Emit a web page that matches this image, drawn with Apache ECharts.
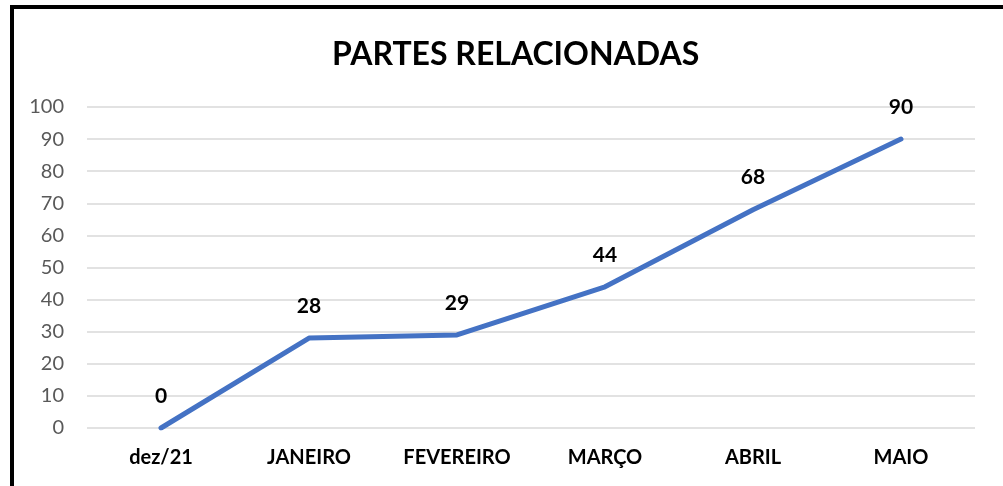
<!DOCTYPE html>
<html><head><meta charset="utf-8">
<script src="https://cdn.jsdelivr.net/npm/echarts@6/dist/echarts.min.js"></script>
<style>html,body{margin:0;padding:0;background:#fff;}#c{width:1003px;height:486px;}</style>
</head><body><div id="c"></div>
<script>
const categories = ['dez/21','JANEIRO','FEVEREIRO','MARÇO','ABRIL','MAIO'];
const values = [0, 28, 29, 44, 68, 90];
const titleText = 'PARTES RELACIONADAS';

const chart = echarts.init(document.getElementById('c'));
const font = 'Lato, "Open Sans", sans-serif';
chart.setOption({
  animation: false,
  backgroundColor: '#fff',
  title: {
    text: titleText, left: 327, top: 34,
    textStyle: {fontFamily: font, fontSize: 32, fontWeight: 'bold', color: '#000'}
  },
  graphic: [{
    type: 'rect', shape: {x: 12, y: 7, width: 1100, height: 600},
    style: {fill: 'none', stroke: '#000', lineWidth: 4}, silent: true
  }],
  grid: {left: 87, right: 28, top: 107, bottom: 58, containLabel: false},
  xAxis: {
    type: 'category', data: categories, boundaryGap: true,
    axisLine: {show: false}, axisTick: {show: false},
    axisLabel: {fontFamily: font, fontSize: 20, fontWeight: 'bold', color: '#000', margin: 20}
  },
  yAxis: {
    type: 'value', min: 0, max: 100, interval: 10,
    axisLine: {show: false}, axisTick: {show: false},
    splitLine: {lineStyle: {color: '#d9d9d9', width: 1.5}},
    axisLabel: {fontFamily: font, fontSize: 20, color: '#595959', margin: 23}
  },
  series: [{
    type: 'line', data: values, symbol: 'circle', symbolSize: 3, showSymbol: true,
    itemStyle: {color: '#4472C4'},
    lineStyle: {color: '#4472C4', width: 5, cap: 'round', join: 'round'},
    label: {show: true, position: 'top', distance: 20, fontFamily: font, fontSize: 21, fontWeight: 'bold', color: '#000'}
  }]
});
</script></body></html>
